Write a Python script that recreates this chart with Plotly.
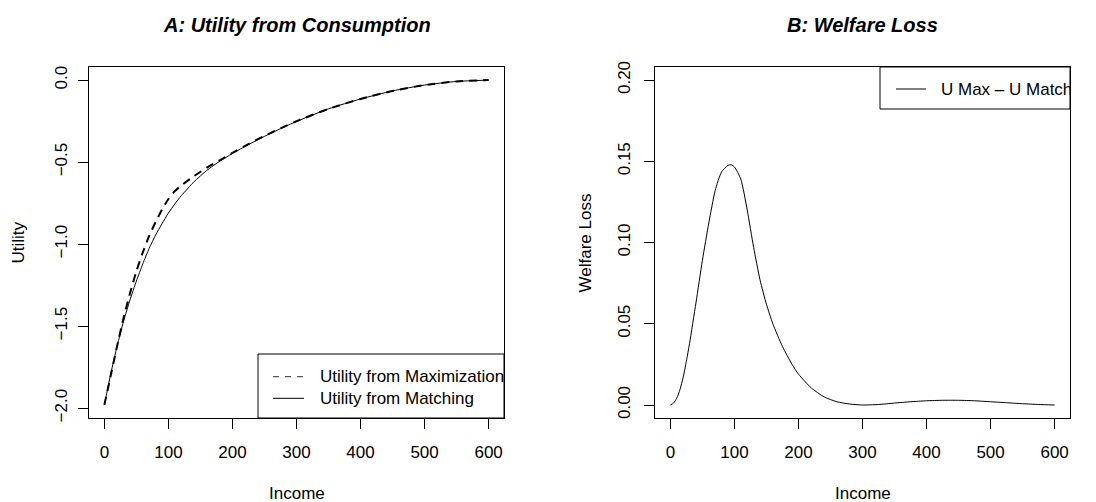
import plotly.graph_objects as go

# ---------------- data ----------------
income_a = [0, 10, 20, 30, 40, 50, 60, 70, 80, 90, 100, 110, 120, 140, 160, 180,
            200, 225, 250, 275, 300, 350, 400, 450, 500, 550, 600]
u_max = [-1.98, -1.80, -1.62, -1.45, -1.30, -1.165, -1.05, -0.95, -0.865, -0.79,
         -0.725, -0.677, -0.643, -0.585, -0.534, -0.489, -0.444, -0.390, -0.340,
         -0.294, -0.251, -0.175, -0.115, -0.066, -0.030, -0.008, 0.0]
u_match = [-1.98, -1.79, -1.62, -1.47, -1.34, -1.225, -1.12, -1.025, -0.945, -0.875,
           -0.81, -0.755, -0.705, -0.62, -0.55, -0.495, -0.447, -0.393, -0.343,
           -0.296, -0.252, -0.175, -0.115, -0.066, -0.030, -0.008, 0.0]

income_b = [0, 5, 10, 15, 20, 25, 30, 40, 50, 60, 70, 80, 90, 95, 100, 110, 120, 130,
            140, 150, 160, 175, 190, 200, 220, 240, 260, 280, 300, 325, 350, 375, 400,
            425, 450, 475, 500, 525, 550, 575, 600]
welfare_loss = [0.0, 0.0012, 0.0042, 0.0095, 0.017, 0.027, 0.038, 0.063, 0.089, 0.112,
                0.132, 0.1435, 0.1475, 0.1478, 0.1465, 0.139, 0.120, 0.097, 0.077,
                0.062, 0.050, 0.036, 0.025, 0.019, 0.0105, 0.005, 0.002, 0.0006, 0.0,
                0.0003, 0.0012, 0.0020, 0.0026, 0.0029, 0.0029, 0.0026, 0.0020, 0.0014,
                0.0008, 0.0003, 0.0]

income_ticks = [0, 100, 200, 300, 400, 500, 600]
utility_ticks = [-2.0, -1.5, -1.0, -0.5, 0.0]
loss_ticks = [0.0, 0.05, 0.10, 0.15, 0.20]

legend_a_labels = ["Utility from Maximization", "Utility from Matching"]
legend_b_label = "U Max \u2013 U Match"

# ---------------- layout constants ----------------
W, H = 1096, 502
FONT = "Liberation Sans, Arial, Helvetica, sans-serif"
FS = 17


def px(x):
    return x / W


def py(y):
    return 1 - y / H


fig = go.Figure()

fig.add_trace(go.Scatter(x=income_a, y=u_max, mode="lines", xaxis="x", yaxis="y",
                         line=dict(color="black", width=2, dash="8px,6px", shape="spline",
                                   smoothing=0.6),
                         showlegend=False, name=legend_a_labels[0]))
fig.add_trace(go.Scatter(x=income_a, y=u_match, mode="lines", xaxis="x", yaxis="y",
                         line=dict(color="black", width=1, shape="spline", smoothing=0.6),
                         showlegend=False, name=legend_a_labels[1]))
fig.add_trace(go.Scatter(x=income_b, y=welfare_loss, mode="lines", xaxis="x2", yaxis="y2",
                         line=dict(color="black", width=1, shape="spline", smoothing=0.6),
                         showlegend=False, name=legend_b_label))

axis_common = dict(showline=True, linecolor="black", linewidth=1, mirror=True,
                   ticks="outside", ticklen=10, tickwidth=1, tickcolor="black",
                   showgrid=False, zeroline=False,
                   tickfont=dict(family=FONT, size=FS, color="black"))

fig.update_layout(
    width=W, height=H,
    margin=dict(l=0, r=0, t=0, b=0, autoexpand=False),
    paper_bgcolor="white", plot_bgcolor="white",
    font=dict(family=FONT, size=FS, color="black"),
    xaxis=dict(domain=[px(89), px(504)], range=[-24, 624], tickvals=income_ticks,
               anchor="y", ticklabelstandoff=9, **axis_common),
    yaxis=dict(domain=[py(418), py(67)], range=[-2.06, 0.08], tickvals=utility_ticks,
               tickformat=".1f", tickangle=-90, anchor="x", ticklabelstandoff=4,
               **axis_common),
    xaxis2=dict(domain=[px(655), px(1070)], range=[-24, 624], tickvals=income_ticks,
                anchor="y2", ticklabelstandoff=9, **axis_common),
    yaxis2=dict(domain=[py(418), py(67)], range=[-0.008, 0.208], tickvals=loss_ticks,
                tickformat=".2f", tickangle=-90, anchor="x2", ticklabelstandoff=7,
                **axis_common),
    showlegend=False,
)

ann = []
title_font = dict(family=FONT, size=20, color="black", weight="bold", style="italic")
ann.append(dict(text="A: Utility from Consumption", x=px(296.5), y=py(25), font=title_font))
ann.append(dict(text="B: Welfare Loss", x=px(862.5), y=py(25), font=title_font))
ann.append(dict(text="Income", x=px(296.5), y=py(493)))
ann.append(dict(text="Income", x=px(862.5), y=py(493)))
ann.append(dict(text="Utility", x=px(18), y=py(242.5), textangle=-90))
ann.append(dict(text="Welfare Loss", x=px(585), y=py(242.5), textangle=-90))
# legend texts
ann.append(dict(text=legend_a_labels[0], x=px(318), y=py(376.7), xanchor="left"))
ann.append(dict(text=legend_a_labels[1], x=px(318), y=py(398.3), xanchor="left"))
ann.append(dict(text=legend_b_label, x=px(939), y=py(89), xanchor="left",
                width=129, align="left"))
for a in ann:
    a.setdefault("xref", "paper")
    a.setdefault("yref", "paper")
    a.setdefault("showarrow", False)
    a.setdefault("xanchor", "center")
    a.setdefault("yanchor", "middle")
    a.setdefault("font", dict(family=FONT, size=FS, color="black"))
fig.update_layout(annotations=ann)

shapes = [
    # legend boxes
    dict(type="rect", x0=px(258), x1=px(504), y0=py(418), y1=py(354),
         line=dict(color="black", width=1), fillcolor="white", layer="above"),
    dict(type="rect", x0=px(880), x1=px(1070), y0=py(109), y1=py(67),
         line=dict(color="black", width=1), fillcolor="white", layer="above"),
    # legend line samples
    dict(type="line", x0=px(273), x1=px(304), y0=py(376.7), y1=py(376.7),
         line=dict(color="#555555", width=1.3, dash="6px,6px")),
    dict(type="line", x0=px(273), x1=px(304), y0=py(398.3), y1=py(398.3),
         line=dict(color="black", width=1)),
    dict(type="line", x0=px(896), x1=px(926), y0=py(89), y1=py(89),
         line=dict(color="black", width=1)),
]
for s in shapes:
    s["xref"] = "paper"
    s["yref"] = "paper"
fig.update_layout(shapes=shapes)

fig.write_html("out.html",
               config={"displayModeBar": False},
               post_script="document.body.style.margin='0';"
                           "document.body.style.overflow='hidden';")
